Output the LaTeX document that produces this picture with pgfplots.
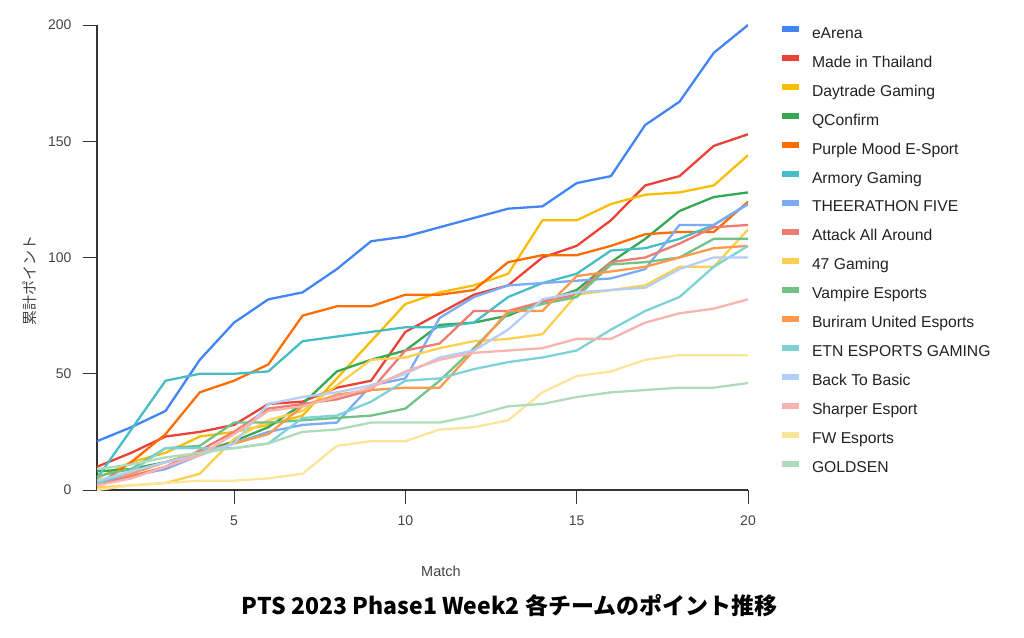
\documentclass[border=0pt]{standalone}
\usepackage{fontspec}
\setmainfont{Liberation Sans}
\newfontfamily\jp{Noto Sans CJK JP}
\usepackage{pgfplots}
\pgfplotsset{compat=1.18}
\definecolor{c1}{HTML}{4285F4}
\definecolor{c2}{HTML}{EA4335}
\definecolor{c3}{HTML}{FBBC04}
\definecolor{c4}{HTML}{34A853}
\definecolor{c5}{HTML}{FF6D01}
\definecolor{c6}{HTML}{46BDC6}
\definecolor{c7}{HTML}{7BAAF7}
\definecolor{c8}{HTML}{F07B72}
\definecolor{c9}{HTML}{FCD04F}
\definecolor{c10}{HTML}{71C287}
\definecolor{c11}{HTML}{FF994D}
\definecolor{c12}{HTML}{7ED1D7}
\definecolor{c13}{HTML}{B3CEFB}
\definecolor{c14}{HTML}{F7B4AE}
\definecolor{c15}{HTML}{FDE49B}
\definecolor{c16}{HTML}{AEDCBA}
\definecolor{axisgray}{HTML}{333333}
\definecolor{txtgray}{HTML}{444444}
\definecolor{legtxt}{HTML}{222222}
\begin{document}
\begin{tikzpicture}[x=1pt,y=1pt]
\useasboundingbox (-97,-147) rectangle (927,490);
\begin{axis}[
  at={(0,0)}, anchor=south west,
  scale only axis, width=651pt, height=465pt,
  xmin=1, xmax=20, ymin=0, ymax=200,
  xtick={5,10,15,20}, ytick={0,50,100,150,200},
  axis x line*=bottom, axis y line*=left,
  axis line style={draw=axisgray, line width=1.2pt, -},
  tick align=outside, major tick length=14pt,
  every tick/.style={draw=axisgray, line width=0.9pt},
  /pgf/number format/assume math mode=true,
  tick label style={font=\fontsize{14}{14}\selectfont, text=txtgray},
  xticklabel style={yshift=-8pt},
  yticklabel style={xshift=-8pt},
  xlabel={Match},
  xlabel style={at={(axis description cs:0.5284,-0.1742)}, anchor=center, font=\fontsize{14.5}{14.5}\selectfont, text=txtgray},
  ylabel={\jp 累計ポイント},
  ylabel style={at={(axis description cs:-0.1029,0.4516)}, anchor=center, font=\fontsize{15}{15}\selectfont, text=txtgray},
  title={\jp\bfseries PTS 2023 Phase1 Week2 各チームのポイント推移},
  title style={at={(axis description cs:0.634,-0.2624)}, anchor=center, font=\fontsize{23}{23}\selectfont, text=black},
  legend cell align=left,
  legend image code/.code={\draw[line width=6pt, line cap=butt] (0pt,5pt) -- (17pt,5pt);},
  legend style={at={(rel axis cs:1.0476,0.9970)}, anchor=north west, draw=none, fill=none,
    inner sep=0pt, outer sep=0pt, row sep=13.72pt, column sep=10pt,
    nodes={inner sep=0pt, text height=11pt, text depth=3.5pt, font=\fontsize{15.7}{15.7}\selectfont, text=legtxt}},
  every axis plot/.append style={line width=2.3pt, line join=round, mark=none},
]
\addplot[c1] coordinates {(1,21)(2,27)(3,34)(4,56)(5,72)(6,82)(7,85)(8,95)(9,107)(10,109)(11,113)(12,117)(13,121)(14,122)(15,132)(16,135)(17,157)(18,167)(19,188)(20,200)};
\addlegendentry{eArena}
\addplot[c2] coordinates {(1,10)(2,16)(3,23)(4,25)(5,28)(6,37)(7,38)(8,44)(9,47)(10,68)(11,76)(12,84)(13,88)(14,100)(15,105)(16,116)(17,131)(18,135)(19,148)(20,153)};
\addlegendentry{Made in Thailand}
\addplot[c3] coordinates {(1,5)(2,12)(3,16)(4,23)(5,25)(6,28)(7,32)(8,48)(9,64)(10,80)(11,85)(12,88)(13,93)(14,116)(15,116)(16,123)(17,127)(18,128)(19,131)(20,144)};
\addlegendentry{Daytrade Gaming}
\addplot[c4] coordinates {(1,8)(2,9)(3,12)(4,16)(5,21)(6,27)(7,37)(8,51)(9,56)(10,60)(11,71)(12,72)(13,75)(14,81)(15,86)(16,98)(17,108)(18,120)(19,126)(20,128)};
\addlegendentry{QConfirm}
\addplot[c5] coordinates {(1,2)(2,12)(3,24)(4,42)(5,47)(6,54)(7,75)(8,79)(9,79)(10,84)(11,84)(12,86)(13,98)(14,101)(15,101)(16,105)(17,110)(18,111)(19,111)(20,124)};
\addlegendentry{Purple Mood E-Sport}
\addplot[c6] coordinates {(1,5)(2,26)(3,47)(4,50)(5,50)(6,51)(7,64)(8,66)(9,68)(10,70)(11,70)(12,72)(13,83)(14,89)(15,93)(16,103)(17,104)(18,108)(19,114)(20,123)};
\addlegendentry{Armory Gaming}
\addplot[c7] coordinates {(1,3)(2,6)(3,9)(4,15)(5,20)(6,25)(7,28)(8,29)(9,45)(10,48)(11,74)(12,83)(13,88)(14,89)(15,90)(16,91)(17,95)(18,114)(19,114)(20,123)};
\addlegendentry{THEERATHON FIVE}
\addplot[c8] coordinates {(1,2)(2,6)(3,10)(4,17)(5,25)(6,35)(7,37)(8,39)(9,43)(10,60)(11,63)(12,77)(13,77)(14,81)(15,84)(16,98)(17,100)(18,106)(19,113)(20,114)};
\addlegendentry{Attack All Around}
\addplot[c9] coordinates {(1,1)(2,2)(3,3)(4,7)(5,22)(6,30)(7,34)(8,45)(9,56)(10,57)(11,61)(12,64)(13,65)(14,67)(15,84)(16,86)(17,88)(18,96)(19,96)(20,112)};
\addlegendentry{47 Gaming}
\addplot[c10] coordinates {(1,6)(2,9)(3,18)(4,19)(5,29)(6,29)(7,30)(8,31)(9,32)(10,35)(11,47)(12,61)(13,76)(14,80)(15,83)(16,97)(17,98)(18,100)(19,108)(20,108)};
\addlegendentry{Vampire Esports}
\addplot[c11] coordinates {(1,4)(2,7)(3,12)(4,16)(5,20)(6,24)(7,36)(8,41)(9,43)(10,44)(11,44)(12,60)(13,77)(14,77)(15,92)(16,94)(17,96)(18,100)(19,104)(20,105)};
\addlegendentry{Buriram United Esports}
\addplot[c12] coordinates {(1,3)(2,8)(3,18)(4,18)(5,18)(6,20)(7,31)(8,32)(9,38)(10,47)(11,48)(12,52)(13,55)(14,57)(15,60)(16,69)(17,77)(18,83)(19,96)(20,105)};
\addlegendentry{ETN ESPORTS GAMING}
\addplot[c13] coordinates {(1,4)(2,8)(3,12)(4,15)(5,20)(6,37)(7,40)(8,42)(9,45)(10,50)(11,57)(12,60)(13,69)(14,82)(15,85)(16,86)(17,87)(18,95)(19,100)(20,100)};
\addlegendentry{Back To Basic}
\addplot[c14] coordinates {(1,2)(2,5)(3,10)(4,15)(5,24)(6,34)(7,36)(8,40)(9,44)(10,51)(11,56)(12,59)(13,60)(14,61)(15,65)(16,65)(17,72)(18,76)(19,78)(20,82)};
\addlegendentry{Sharper Esport}
\addplot[c15] coordinates {(1,0)(2,2)(3,3)(4,4)(5,4)(6,5)(7,7)(8,19)(9,21)(10,21)(11,26)(12,27)(13,30)(14,42)(15,49)(16,51)(17,56)(18,58)(19,58)(20,58)};
\addlegendentry{FW Esports}
\addplot[c16] coordinates {(1,9)(2,11)(3,14)(4,16)(5,18)(6,20)(7,25)(8,26)(9,29)(10,29)(11,29)(12,32)(13,36)(14,37)(15,40)(16,42)(17,43)(18,44)(19,44)(20,46)};
\addlegendentry{GOLDSEN}
\end{axis}
\end{tikzpicture}
\end{document}
